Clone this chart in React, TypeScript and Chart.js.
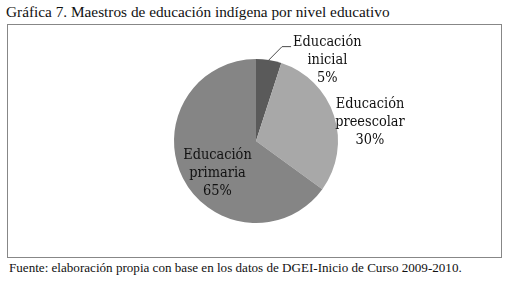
import React, { useEffect, useRef } from "react";
import { Chart, registerables } from "chart.js";

Chart.register(...registerables);

// Teachers of indigenous education by educational level (percent)
const levels = ["Educación inicial", "Educación preescolar", "Educación primaria"];
const labelLines = [
  ["Educación", "inicial"],
  ["Educación", "preescolar"],
  ["Educación", "primaria"],
];
const shares = [5, 30, 65];
const sliceColors = ["#5a5a5a", "#a8a8a8", "#858585"];

const titleText = "Gráfica 7. Maestros de educación indígena por nivel educativo";
const sourceText =
  "Fuente: elaboración propia con base en los datos de DGEI-Inicio de Curso 2009-2010.";

// Where each label block sits, in units of the pie radius from the centre,
// and whether it gets a leader line back to its slice.
const labelPlacement = [
  { dx: 0.87, dy: -0.98, leader: true },
  { dx: 1.39, dy: -0.23, leader: false },
  { dx: -0.47, dy: 0.39, leader: false },
];

const LABEL_FONT = '14.4px "DejaVu Serif Condensed", "DejaVu Serif", serif';
const LINE_H = 18;

const pieLabels = {
  id: "pieLabels",
  afterDatasetsDraw(chart: any) {
    const { ctx } = chart;
    const meta = chart.getDatasetMeta(0);
    ctx.save();
    ctx.font = LABEL_FONT;
    ctx.textAlign = "center";
    ctx.textBaseline = "middle";
    meta.data.forEach((arc: any, i: number) => {
      const { x, y, outerRadius, startAngle, endAngle } = arc.getProps(
        ["x", "y", "outerRadius", "startAngle", "endAngle"],
        true
      );
      const p = labelPlacement[i];
      const cx = x + p.dx * outerRadius;
      const cy = y + p.dy * outerRadius;
      const lines = [...labelLines[i], `${shares[i]}%`];
      const top = cy - ((lines.length - 1) * LINE_H) / 2;
      if (p.leader) {
        const mid = (startAngle + endAngle) / 2;
        const ex = x + Math.cos(mid) * outerRadius;
        const ey = y + Math.sin(mid) * outerRadius;
        const w = ctx.measureText(lines[0]).width;
        const hx = cx - w / 2 - 2;
        const hy = top + 4;
        ctx.strokeStyle = "#4a4a4a";
        ctx.lineWidth = 1;
        ctx.beginPath();
        ctx.moveTo(ex, ey);
        ctx.lineTo(hx - 9, hy);
        ctx.lineTo(hx, hy);
        ctx.stroke();
      }
      ctx.fillStyle = "#111111";
      lines.forEach((t, k) => ctx.fillText(t, cx, top + k * LINE_H));
    });
    ctx.restore();
  },
};

function PieChart() {
  const ref = useRef<HTMLCanvasElement | null>(null);
  useEffect(() => {
    if (!ref.current) return;
    const chart = new Chart(ref.current, {
      type: "pie",
      data: {
        labels: levels,
        datasets: [
          {
            data: shares,
            backgroundColor: sliceColors,
            borderWidth: 0,
          },
        ],
      },
      options: {
        animation: false,
        responsive: false,
        layout: { padding: { left: 3, right: 0, top: 34, bottom: 34 } },
        plugins: {
          legend: { display: false },
          tooltip: { enabled: false },
        },
      },
      plugins: [pieLabels],
    });
    return () => chart.destroy();
  }, []);
  return <canvas ref={ref} width={493} height={232} style={{ display: "block" }} />;
}

export default function App() {
  return (
    <div
      style={{
        position: "absolute",
        left: 0,
        top: 0,
        width: 509,
        height: 282,
        background: "#ffffff",
        fontFamily: '"Liberation Serif", "Times New Roman", serif',
        color: "#111111",
      }}
    >
      <div style={{ position: "absolute", left: 6, top: 3, fontSize: 15.3, lineHeight: "18px", whiteSpace: "nowrap" }}>
        {titleText}
      </div>
      <div
        style={{
          position: "absolute",
          left: 7,
          top: 24,
          width: 495,
          height: 234,
          border: "1px solid #878787",
          boxSizing: "border-box",
        }}
      >
        <PieChart />
      </div>
      <div style={{ position: "absolute", left: 9, top: 260, fontSize: 13.1, lineHeight: "16px", whiteSpace: "nowrap" }}>
        {sourceText}
      </div>
    </div>
  );
}
